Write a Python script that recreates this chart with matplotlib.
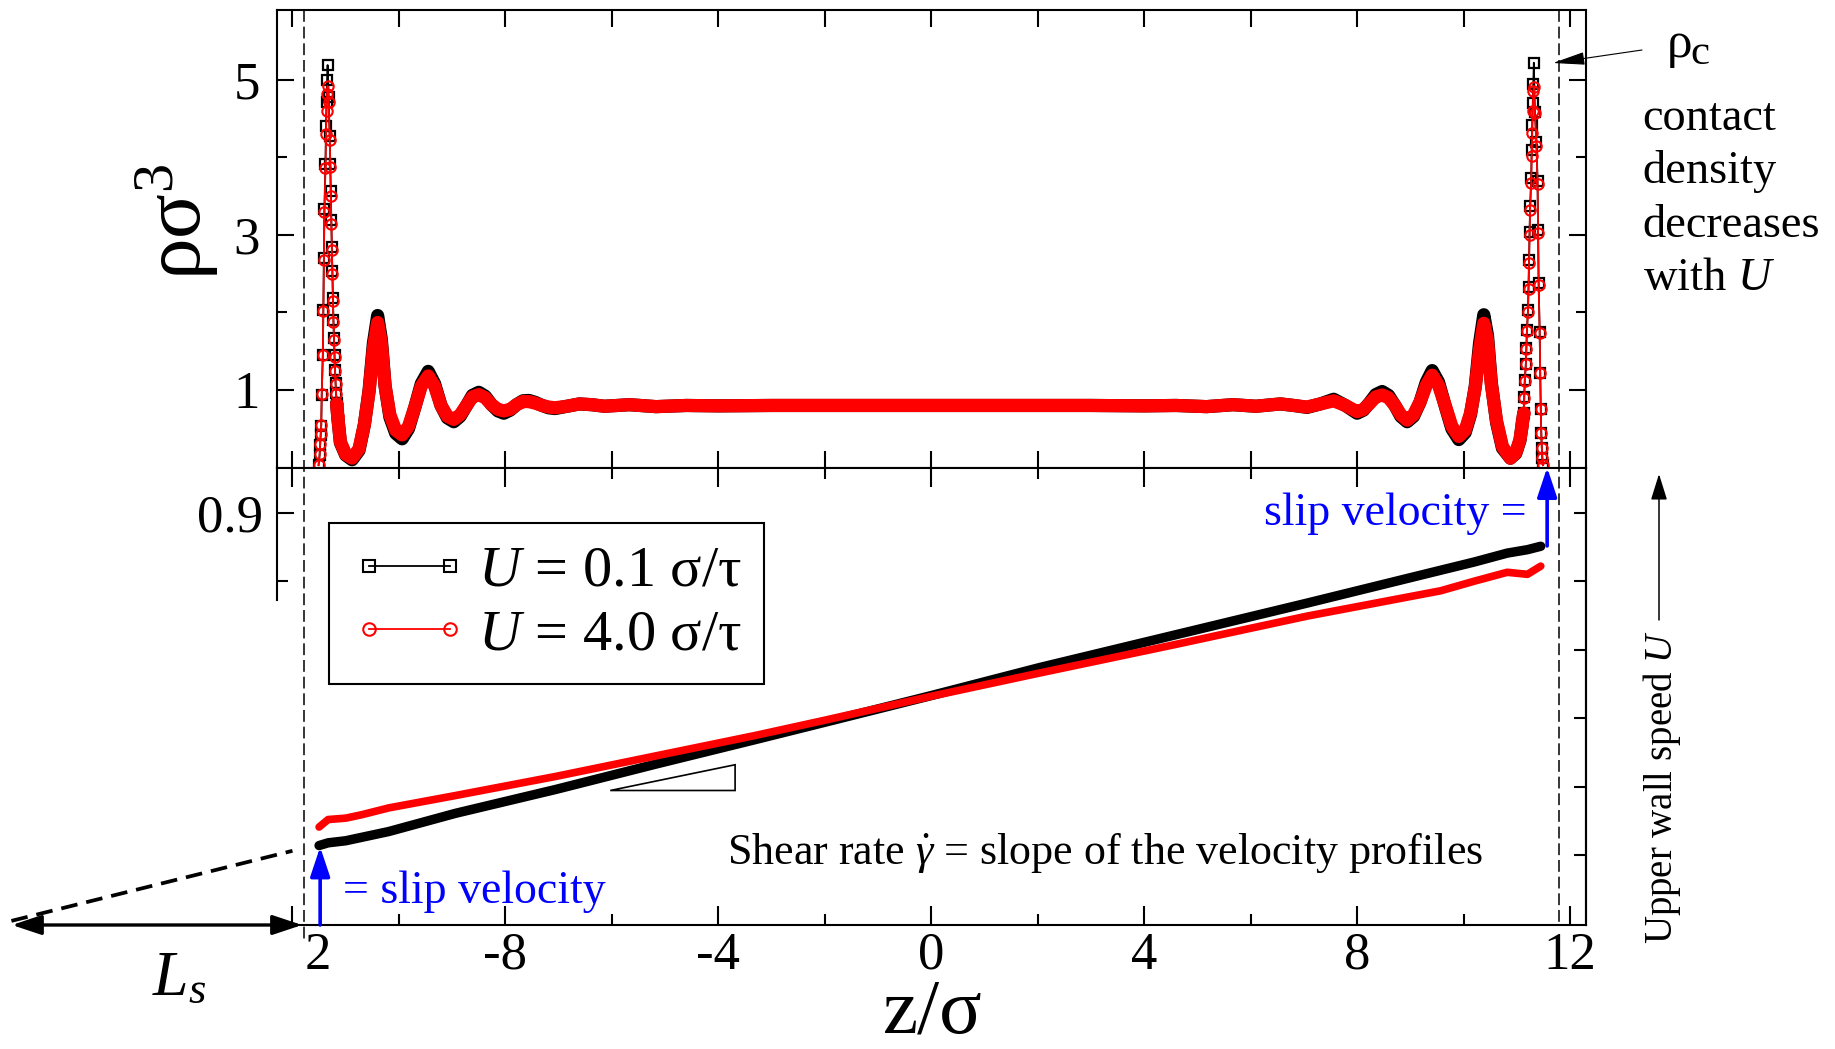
import numpy as np
import matplotlib
matplotlib.use("Agg")
import matplotlib.pyplot as plt
from matplotlib.lines import Line2D
from matplotlib.patches import FancyArrowPatch, Polygon
from matplotlib.transforms import (blended_transform_factory, Bbox, TransformedBbox,
                                   offset_copy)
from matplotlib.ticker import FixedLocator, FixedFormatter

plt.rcParams['font.family'] = ['Liberation Serif', 'DejaVu Serif']
plt.rcParams['mathtext.fontset'] = 'custom'
plt.rcParams['mathtext.rm'] = 'Liberation Serif'
plt.rcParams['mathtext.it'] = 'Liberation Serif:italic'
plt.rcParams['mathtext.bf'] = 'Liberation Serif:bold'
plt.rcParams['lines.scale_dashes'] = False

# ---------------- density profiles rho(z) ----------------
z_rho = [-11.51, -11.49, -11.48, -11.47, -11.46, -11.45, -11.43, -11.42, -11.41, -11.40,
         -11.38, -11.37, -11.36, -11.35, -11.34, -11.32, -11.30, -11.29, -11.28, -11.27,
         -11.26, -11.25, -11.24, -11.23, -11.22, -11.21, -11.20, -11.19, -11.18, -11.17,
         -11.15, -11.10, -11.00, -10.88, -10.75, -10.65, -10.56, -10.48, -10.40, -10.33,
         -10.26, -10.17, -10.06, -9.94, -9.82, -9.70, -9.58, -9.45, -9.33, -9.21,
         -9.09, -8.97, -8.85, -8.73, -8.62, -8.50, -8.38, -8.26, -8.14, -8.03,
         -7.91, -7.79, -7.67, -7.56, -7.44, -7.31, -7.19, -7.07, -6.84, -6.61,
         -6.38, -6.14, -5.90, -5.67, -5.17, -4.60, -4.00, -3.00, -2.00, -1.00,
         0.00, 1.00, 2.00, 3.00, 4.00, 4.60, 5.17, 5.67, 6.10, 6.56,
         6.81, 7.06, 7.31, 7.56, 7.78, 8.00, 8.12, 8.24, 8.35, 8.47,
         8.59, 8.71, 8.82, 8.94, 9.06, 9.18, 9.30, 9.41, 9.53, 9.66,
         9.78, 9.91, 10.03, 10.13, 10.22, 10.30, 10.38, 10.45, 10.52, 10.62,
         10.73, 10.88, 10.98, 11.06, 11.10, 11.13, 11.14, 11.15, 11.17, 11.18,
         11.19, 11.21, 11.22, 11.23, 11.24, 11.25, 11.27, 11.28, 11.29, 11.30,
         11.31, 11.32, 11.34, 11.37, 11.39, 11.40, 11.41, 11.43, 11.44, 11.45,
         11.46, 11.47, 11.48, 11.49]

rho_U01 = [0.03, 0.16, 0.29, 0.42, 0.53, 0.94, 1.45, 2.03, 2.70, 3.34,
           3.92, 4.40, 4.72, 5.00, 5.19, 4.78, 4.27, 3.92, 3.56, 3.19,
           2.85, 2.53, 2.18, 1.90, 1.67, 1.45, 1.26, 1.09, 0.96, 0.83,
           0.66, 0.32, 0.16, 0.10, 0.22, 0.55, 1.00, 1.60, 1.96, 1.65,
           1.05, 0.65, 0.44, 0.37, 0.50, 0.78, 1.08, 1.24, 1.08, 0.80,
           0.64, 0.59, 0.66, 0.80, 0.93, 0.97, 0.92, 0.81, 0.73, 0.70,
           0.74, 0.81, 0.86, 0.865, 0.84, 0.80, 0.77, 0.76, 0.79, 0.82,
           0.81, 0.79, 0.80, 0.81, 0.785, 0.80, 0.795, 0.80, 0.80, 0.80,
           0.80, 0.80, 0.80, 0.80, 0.795, 0.80, 0.785, 0.81, 0.79, 0.82,
           0.80, 0.775, 0.82, 0.88, 0.80, 0.70, 0.74, 0.84, 0.94, 0.98,
           0.93, 0.80, 0.66, 0.59, 0.66, 0.84, 1.10, 1.25, 1.10, 0.78,
           0.50, 0.36, 0.45, 0.68, 1.05, 1.60, 1.97, 1.70, 1.10, 0.58,
           0.25, 0.12, 0.18, 0.35, 0.55, 0.70, 0.91, 1.13, 1.34, 1.54,
           1.77, 2.03, 2.33, 2.68, 3.04, 3.37, 3.73, 4.10, 4.42, 4.70,
           4.95, 5.22, 4.59, 4.20, 3.69, 3.06, 2.38, 1.75, 1.22, 0.76,
           0.44, 0.25, 0.12, 0.03]

rho_U40 = [0.03, 0.17, 0.30, 0.43, 0.55, 0.95, 1.45, 2.02, 2.68, 3.30,
           3.86, 4.30, 4.60, 4.82, 4.92, 4.72, 4.22, 3.88, 3.50, 3.14,
           2.80, 2.49, 2.15, 1.87, 1.64, 1.43, 1.24, 1.08, 0.95, 0.82,
           0.66, 0.33, 0.17, 0.12, 0.24, 0.55, 0.98, 1.54, 1.87, 1.60,
           1.05, 0.68, 0.48, 0.42, 0.53, 0.78, 1.05, 1.18, 1.05, 0.80,
           0.66, 0.62, 0.68, 0.80, 0.91, 0.94, 0.90, 0.81, 0.75, 0.73,
           0.75, 0.81, 0.85, 0.85, 0.83, 0.80, 0.78, 0.77, 0.79, 0.82,
           0.81, 0.79, 0.80, 0.81, 0.785, 0.80, 0.795, 0.80, 0.80, 0.80,
           0.80, 0.80, 0.80, 0.80, 0.795, 0.80, 0.785, 0.81, 0.79, 0.82,
           0.80, 0.78, 0.82, 0.86, 0.80, 0.72, 0.75, 0.83, 0.91, 0.935,
           0.90, 0.80, 0.68, 0.61, 0.68, 0.84, 1.06, 1.19, 1.06, 0.79,
           0.53, 0.40, 0.48, 0.70, 1.03, 1.52, 1.86, 1.64, 1.08, 0.60,
           0.27, 0.12, 0.19, 0.36, 0.55, 0.70, 0.90, 1.12, 1.33, 1.53,
           1.76, 2.01, 2.30, 2.64, 3.00, 3.32, 3.67, 4.02, 4.32, 4.60,
           4.85, 4.91, 4.57, 4.15, 3.65, 3.03, 2.36, 1.74, 1.22, 0.76,
           0.44, 0.25, 0.12, 0.03]

# ---------------- velocity profiles v(z) ----------------
z_vel = [-11.50, -11.33, -11.00, -10.70, -10.19, -8.94, -7.05, -5.17, -3.29, -2.00,
         0.00, 2.04, 4.55, 7.06, 9.57, 10.20, 10.82, 11.20, 11.45]
v_U01 = [0.414, 0.418, 0.421, 0.426, 0.4345, 0.461, 0.496, 0.533, 0.569, 0.594,
         0.633, 0.674, 0.721, 0.768, 0.816, 0.828, 0.841, 0.846, 0.851]
v_U40 = [0.441, 0.452, 0.454, 0.459, 0.469, 0.487, 0.515, 0.545, 0.575, 0.597,
         0.632, 0.666, 0.707, 0.749, 0.786, 0.800, 0.813, 0.810, 0.822]

x_major = [-12, -8, -4, 0, 4, 8, 12]
x_major_labels = ['-12', '-8', '-4', '0', '4', '8', '12']
x_minor = [-10, -6, -2, 2, 6, 10]
rho_ticks = [1, 3, 5]
vel_ticks = [0.4, 0.5, 0.6, 0.7, 0.8, 0.9]

series_labels = [r'$U$ = 0.1 σ/τ', r'$U$ = 4.0 σ/τ']

# ---------------- figure geometry ----------------
W, H = 1835, 1049
DPI = 100
fig = plt.figure(figsize=(W / DPI, H / DPI), dpi=DPI)


def fx(X):
    return X / W


def fy(Y):
    return 1 - Y / H


xl, xr = 276.5, 1586.0
axt = fig.add_axes([fx(xl), fy(467.5), fx(xr) - fx(xl), fy(10) - fy(467.5)])
axb = fig.add_axes([fx(xl), fy(925), fx(xr) - fx(xl), fy(467.5) - fy(925)])

XLIM = (-12.3, 12.3)
for ax in (axt, axb):
    ax.set_xlim(*XLIM)
    for sp in ax.spines.values():
        sp.set_linewidth(1.5)
axt.set_ylim(0, 5.9)
axb.set_ylim(0.298, 0.966)

BAND = 9.5      # width of the dense-marker band (pt)
z_arr = np.array(z_rho)
r01 = np.array(rho_U01)
r40 = np.array(rho_U40)
band = (z_arr >= -11.17) & (z_arr <= 11.13)
left_peak = z_arr <= -11.15
right_peak = z_arr >= 11.10

# U = 0.1 (black squares)
axt.plot(z_arr[band], r01[band], color='black', lw=BAND, solid_joinstyle='round',
         solid_capstyle='round', zorder=2)
for m in (left_peak, right_peak):
    axt.plot(z_arr[m], r01[m], color='black', lw=1.3, marker='s', ms=7.5,
             mfc='none', mec='black', mew=1.6, zorder=3)
# U = 4.0 (red circles)
axt.plot(z_arr[band], r40[band], color='red', lw=BAND, solid_joinstyle='round',
         solid_capstyle='round', zorder=4)
for m in (left_peak, right_peak):
    axt.plot(z_arr[m], r40[m], color='red', lw=1.3, marker='o', ms=7.5,
             mfc='none', mec='red', mew=1.5, zorder=5)

axb.plot(z_vel, v_U01, color='black', lw=6.8, solid_capstyle='round',
         solid_joinstyle='round', zorder=3)
axb.plot(z_vel, v_U40, color='red', lw=5.5, solid_capstyle='round',
         solid_joinstyle='round', zorder=4)

# ---------------- ticks ----------------
TICKFS = 38
axt.xaxis.set_major_locator(FixedLocator(list(range(-12, 13, 2))))
axt.tick_params(axis='x', which='major', direction='in', top=True, bottom=True,
                labelbottom=False, length=12, width=1.5)
axt.yaxis.set_major_locator(FixedLocator(rho_ticks))
axt.yaxis.set_minor_locator(FixedLocator([2, 4]))
axt.tick_params(axis='y', which='major', direction='in', left=True, right=True,
                length=12, width=1.5, labelsize=TICKFS, pad=12)
axt.tick_params(axis='y', which='minor', direction='in', left=True, right=True,
                length=7.5, width=1.5)

XPAD = 5
x_labels_drawn = [s if v != -12 else '' for v, s in zip(x_major, x_major_labels)]
axb.xaxis.set_major_locator(FixedLocator(x_major))
axb.xaxis.set_major_formatter(FixedFormatter(x_labels_drawn))
axb.xaxis.set_minor_locator(FixedLocator(x_minor))
axb.tick_params(axis='x', which='major', direction='in', top=True, bottom=True,
                length=13.5, width=1.5, labelsize=TICKFS, pad=XPAD)
axb.tick_params(axis='x', which='minor', direction='in', top=True, bottom=True,
                length=8, width=1.5)
axb.yaxis.set_major_locator(FixedLocator([0.9]))
axb.yaxis.set_major_formatter(FixedFormatter(['0.9']))
axb.yaxis.set_minor_locator(FixedLocator([0.8]))
axb.tick_params(axis='y', which='major', direction='in', left=True, right=False,
                length=12, width=1.5, labelsize=TICKFS, pad=10)
axb.tick_params(axis='y', which='minor', direction='in', left=True, right=False,
                length=8, width=1.5)
axb.spines['left'].set_bounds(0.772, 0.966)

axr = axb.twinx()
axr.set_ylim(axb.get_ylim())
axr.yaxis.set_major_locator(FixedLocator(vel_ticks))
axr.tick_params(axis='y', direction='in', right=True, left=False, labelright=False,
                length=9, width=1.5)
for k in ('left', 'top', 'bottom'):
    axr.spines[k].set_visible(False)
axr.spines['right'].set_linewidth(1.5)

# the "-12" label sits partly behind the slip-length construction
lbl_tr = offset_copy(axb.get_xaxis_transform(), fig=fig, y=-XPAD, units='points')
t12 = axb.text(-11.93, 0, x_major_labels[0], transform=lbl_tr, ha='center', va='top',
               fontsize=TICKFS)
t12.set_clip_box(TransformedBbox(Bbox([[fx(305), 0.0], [1.0, 1.0]]), fig.transFigure))
t12.set_clip_on(True)

# ---------------- wall positions (dashed) ----------------
bl = blended_transform_factory(axt.transData, fig.transFigure)
for zw, ybot in ((-11.78, 942), (11.79, 925)):
    fig.add_artist(Line2D([zw, zw], [fy(10), fy(ybot)], transform=bl, color='black',
                          lw=1.1, dashes=(8.5, 3.5)))

# ---------------- legend ----------------
h1 = Line2D([], [], color='black', lw=1.3, marker='s', ms=9, mfc='none', mew=1.5)
h2 = Line2D([], [], color='red', lw=1.3, marker='o', ms=9, mfc='none', mew=1.5)
leg = axb.legend([h1, h2], series_labels, loc='upper left',
                 bbox_to_anchor=(fx(329), fy(523)), bbox_transform=fig.transFigure,
                 borderaxespad=0, fontsize=42, numpoints=2, handlelength=2.0,
                 handletextpad=0.17, borderpad=0.38, labelspacing=0.18,
                 frameon=True, fancybox=False, edgecolor='black', framealpha=1)
leg.get_frame().set_linewidth(1.5)

# ---------------- slope triangle ----------------
axb.add_patch(Polygon([[-6.03, 0.4944], [-3.685, 0.532], [-3.685, 0.4944]], closed=True,
                      fill=False, edgecolor='black', lw=1.2, zorder=5))

# ---------------- slip-length construction ----------------
axb.plot([-17.28, -12.0], [0.304, 0.4063], color='black', lw=2.7, dashes=(12, 6.5),
         clip_on=False, zorder=6)
axb.add_patch(FancyArrowPatch((-17.27, 0.298), (-11.82, 0.298),
                              arrowstyle='<|-|>,head_length=0.9,head_width=0.3',
                              mutation_scale=20, color='black', lw=2.4,
                              shrinkA=0, shrinkB=0, clip_on=False, zorder=6))

# slip-velocity arrows
axb.add_patch(FancyArrowPatch((-11.48, 0.298), (-11.48, 0.412),
                              arrowstyle='-|>,head_length=0.9,head_width=0.3',
                              mutation_scale=20, color='blue', lw=2.6,
                              shrinkA=0, shrinkB=0, clip_on=False, zorder=7))
axb.add_patch(FancyArrowPatch((11.57, 0.8515), (11.57, 0.966),
                              arrowstyle='-|>,head_length=0.9,head_width=0.3',
                              mutation_scale=20, color='blue', lw=2.6,
                              shrinkA=0, shrinkB=0, clip_on=False, zorder=7))

# ---------------- annotations ----------------
fig.text(fx(342.7), fy(902.7), '= slip velocity', color='blue', fontsize=33,
         va='baseline', ha='left')
fig.text(fx(1527), fy(525), 'slip velocity =', color='blue', fontsize=33,
         va='baseline', ha='right')
fig.text(fx(726.7), fy(864), r'Shear rate $\dot{\gamma}$ = slope of the velocity profiles',
         fontsize=31.7, va='baseline', ha='left')
fig.text(fx(152), fy(995), r'$L_s$', fontsize=46, va='baseline', ha='left')

fig.text(fx(1667), fy(57), 'ρ', fontsize=37, va='baseline', ha='left')
fig.text(fx(1690), fy(64), 'c', fontsize=31, va='baseline', ha='left')
fig.add_artist(FancyArrowPatch((fx(1642), fy(50)), (fx(1553), fy(63)),
                               transform=fig.transFigure,
                               arrowstyle='-|>,head_length=1.0,head_width=0.2',
                               mutation_scale=20, color='black', lw=0.8,
                               shrinkA=0, shrinkB=0))
fig.text(fx(1642.7), fy(97), 'contact\ndensity\ndecreases\nwith $U$', fontsize=33.4,
         va='top', ha='left', linespacing=1.33)

fig.add_artist(FancyArrowPatch((fx(1659), fy(620)), (fx(1659), fy(474)),
                               transform=fig.transFigure,
                               arrowstyle='-|>,head_length=0.8,head_width=0.25',
                               mutation_scale=20, color='black', lw=1.1,
                               shrinkA=0, shrinkB=0))
fig.text(fx(1662), fy(787), r'Upper wall speed $U$', fontsize=28, rotation=90,
         ha='center', va='center')

# axis labels
fig.text(fx(177), fy(222), r'ρσ$^3$', fontsize=60, rotation=90, ha='center', va='center')
fig.text(fx(933), fy(1032), 'z/σ', fontsize=57, ha='center', va='baseline')

fig.savefig('out.png', dpi=DPI)
